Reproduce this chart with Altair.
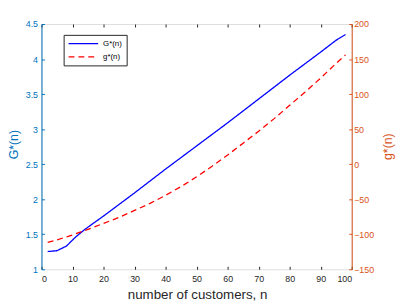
import altair as alt
import pandas as pd

n_G = [2, 5, 8, 11, 14, 20, 30, 40, 50, 60, 70, 80, 90, 95, 98]
G_vals = [1.253, 1.265, 1.33, 1.46, 1.57, 1.76, 2.09, 2.43, 2.76, 3.09, 3.43, 3.77, 4.10, 4.27, 4.35]

n_g = [2, 5, 10, 15, 20, 25, 30, 35, 40, 45, 50, 55, 60, 65, 70, 75, 80, 85, 90, 95, 98]
g_vals = [-111.5, -108, -101, -93, -84.5, -76, -66, -56, -44.5, -32, -18, -3, 13, 30, 47, 65, 84, 103, 123, 144, 156]

series_names = ["G*(n)", "g*(n)"]

dfG = pd.DataFrame({"n": n_G, "v": G_vals, "s": series_names[0]})
dfg = pd.DataFrame({"n": n_g, "v": g_vals, "s": series_names[1]})

BLUE_AX = "#0072BD"
ORANGE_AX = "#D95319"
DARK = "#262626"
FONT = "Liberation Sans"

xscale = alt.Scale(domain=[0, 100], nice=False)
color = alt.Color("s:N", scale=alt.Scale(domain=series_names, range=["#0000ff", "#ff0000"]),
                  legend=alt.Legend(title=None, orient="none", legendX=22.5, legendY=11,
                                    symbolType="M-1,0H6.5", symbolSize=64, symbolStrokeWidth=1.3,
                                    labelFontSize=8, labelFont=FONT, labelColor="#000000",
                                    strokeColor="#262626", fillColor="white", padding=4,
                                    rowPadding=4.3, labelOffset=26))
dash = alt.StrokeDash("s:N", scale=alt.Scale(domain=series_names, range=[[1, 0], [6, 4]]), legend=None)

xaxis_main = alt.Axis(values=list(range(0, 101, 10)), tickSize=0, domain=False, grid=False,
                      labelColor=DARK, labelFontSize=9, labelFont=FONT, labelPadding=5,
                      title="number of customers, n", titleFont=FONT, titleFontSize=13.5,
                      titleFontWeight="normal", titleColor=DARK, titleX=158, titleY=30,
                      titleBaseline="alphabetic")

lineG = alt.Chart(dfG).mark_line(strokeWidth=1.3).encode(
    x=alt.X("n:Q", scale=xscale, axis=xaxis_main),
    y=alt.Y("v:Q", scale=alt.Scale(domain=[1, 4.5], nice=False),
            axis=alt.Axis(values=[1, 1.5, 2, 2.5, 3, 3.5, 4, 4.5], format=".1~f", tickSize=0, grid=False,
                          domainColor=BLUE_AX, labelColor=BLUE_AX, labelFontSize=9, labelFont=FONT,
                          labelPadding=4, title="G*(n)", titleFont=FONT, titleFontSize=12.5,
                          titleFontWeight="normal", titleColor=BLUE_AX, titleAngle=270,
                          titleX=-28, titleY=122, titleAlign="center", titleBaseline="middle")),
    color=color,
    strokeDash=dash,
)

lineg = alt.Chart(dfg).mark_line(strokeWidth=1.3).encode(
    x=alt.X("n:Q", scale=xscale, axis=alt.Axis(orient="top", labels=False, domain=False, grid=False,
                                                 values=list(range(0, 101, 10)), tickSize=3, offset=-3,
                                                 tickColor=DARK, title=None)),
    y=alt.Y("v:Q", scale=alt.Scale(domain=[-150, 200], nice=False),
            axis=alt.Axis(orient="right", values=list(range(-150, 201, 50)), tickSize=0, grid=False,
                          domainColor=ORANGE_AX, labelColor=ORANGE_AX, labelFontSize=9, labelFont=FONT,
                          labelPadding=2, title="g*(n)", titleFont=FONT, titleFontSize=12.5,
                          titleFontWeight="normal", titleColor=ORANGE_AX, titleAngle=270,
                          titleX=36, titleY=124, titleAlign="center", titleBaseline="middle")),
    color=color,
    strokeDash=dash,
)

ticksG = alt.Chart(dfG).mark_line(opacity=0).encode(
    x=alt.X("n:Q", scale=xscale, axis=alt.Axis(orient="bottom", labels=False, domain=False, grid=False,
                                                 values=list(range(0, 101, 10)), tickSize=3, offset=-3,
                                                 tickColor=DARK, title=None)),
    y=alt.Y("v:Q", scale=alt.Scale(domain=[1, 4.5], nice=False),
            axis=alt.Axis(orient="left", labels=False, domain=False, grid=False,
                          values=[1, 1.5, 2, 2.5, 3, 3.5, 4, 4.5], tickSize=3, offset=-3,
                          tickColor=BLUE_AX, title=None)),
)

ticksg = alt.Chart(dfg).mark_line(opacity=0).encode(
    x=alt.X("n:Q", scale=xscale, axis=None),
    y=alt.Y("v:Q", scale=alt.Scale(domain=[-150, 200], nice=False),
            axis=alt.Axis(orient="right", labels=False, domain=False, grid=False,
                          values=list(range(-150, 201, 50)), tickSize=3, offset=-3,
                          tickColor=ORANGE_AX, title=None)),
)

chart = alt.layer(lineG, lineg, ticksG, ticksg).resolve_scale(
    y="independent", x="shared"
).resolve_axis(
    y="independent", x="independent"
).properties(
    width=315, height=249,
    autosize=alt.AutoSizeParams(type="none"),
    padding={"left": 34, "top": 14, "right": 48, "bottom": 34},
).configure_view(
    stroke="#262626", strokeWidth=1
).configure(background="white")

chart.save("out.html", embed_options={"renderer": "svg", "actions": False})
